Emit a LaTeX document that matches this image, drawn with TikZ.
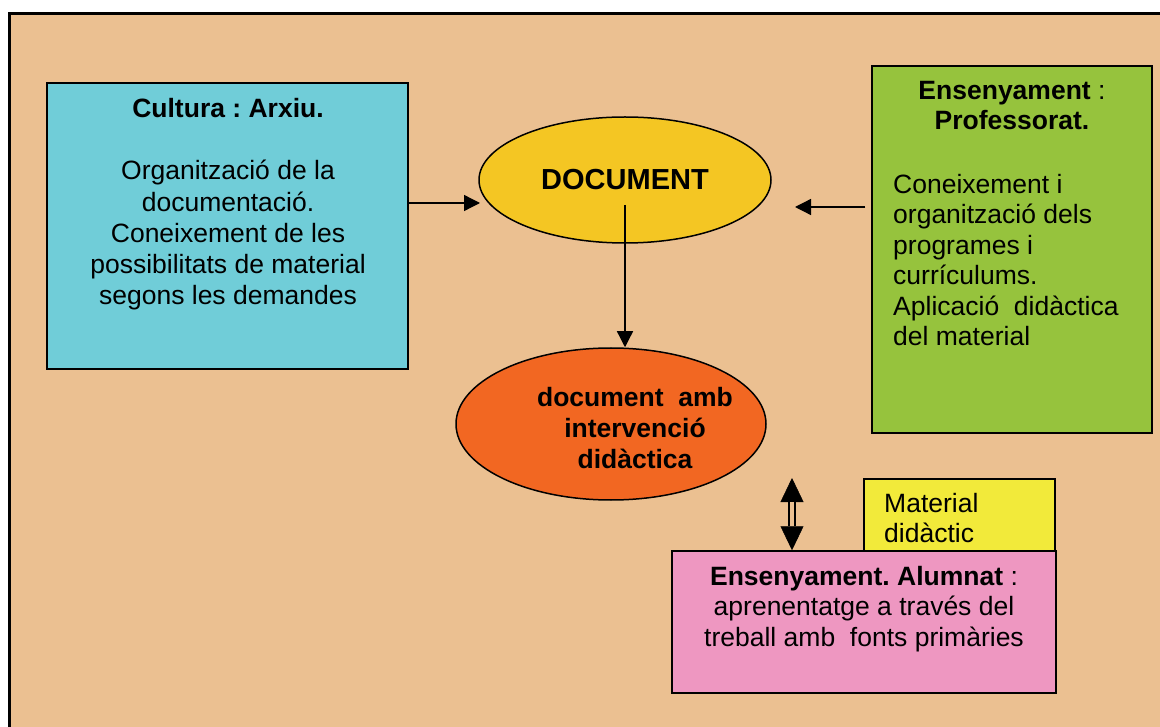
\documentclass[tikz,border=0pt]{standalone}
\usepackage{fontspec}
\setmainfont{Liberation Sans}
\usetikzlibrary{shapes.geometric,arrows.meta}
\frenchspacing

\definecolor{fons}{RGB}{235,192,145}
\definecolor{blau}{RGB}{112,205,216}
\definecolor{groc}{RGB}{244,198,35}
\definecolor{verd}{RGB}{150,195,61}
\definecolor{taronja}{RGB}{242,103,34}
\definecolor{llima}{RGB}{242,234,58}
\definecolor{rosa}{RGB}{238,151,193}

\begin{document}
\begin{tikzpicture}[x=1pt,y=-1pt,
	caixa/.style={rectangle,draw=black,line width=1.5pt,inner sep=0pt},
	elipse/.style={ellipse,draw=black,line width=1.5pt,inner sep=0pt},
	lletra/.style={inner sep=0pt,align=center,font=\fontsize{26.5}{30.5}\selectfont},
	fletxa/.style={-{Triangle[length=16pt,width=16pt]},line width=1.3pt},
	punta/.style={{Triangle[length=24pt,width=23pt]}-{Triangle[length=24pt,width=23pt]},line width=0.5pt}
]

% Fons
\useasboundingbox (0,0) rectangle (1160,727);
\fill[fons] (8,12) rectangle (1160,727);
\draw[line width=3pt] (9.5,727) -- (9.5,13.5) -- (1160,13.5);

% Caixes
\node[caixa,fill=blau,minimum width=361pt,minimum height=286pt] (cultura) at (227.5,226) {};
\node[caixa,fill=verd,minimum width=280pt,minimum height=367pt] (profes) at (1012,249.5) {};
\node[caixa,fill=llima,minimum width=191pt,minimum height=72pt] (material) at (959.5,515) {};
\node[caixa,fill=rosa,minimum width=384pt,minimum height=142pt] (alumnat) at (864,622) {};

\node[elipse,fill=groc,minimum width=292pt,minimum height=126pt] (doc) at (625,180) {};
\node[elipse,fill=taronja,minimum width=310pt,minimum height=152pt] (dida) at (611,424) {};

% Textos
\node[lletra,font=\fontsize{26.5}{31.2}\selectfont,anchor=north] (tcultura) at (228,98) {\textbf{Cultura : Arxiu.}\\ \\
	Organització de la\\ documentació.\\ Coneixement de les\\
	possibilitats de material\\ segons les demandes};
\node[lletra,anchor=north] (tprofes) at (1012,81) {\textbf{Ensenyament} :\\ \textbf{Professorat.}};
\node[lletra,align=left,anchor=north west] (tprofes2) at (893,174) {Coneixement i\\
	organització dels\\ programes i\\ currículums.\\ Aplicació\ \ didàctica\\ del material};
\node[lletra,align=left,anchor=north west] (tmaterial) at (884,493) {Material\\ didàctic};
\node[lletra,anchor=north] (talumnat) at (864,566) {\textbf{Ensenyament. Alumnat} :\\
	aprenentatge a través del\\ treball amb\ \ fonts primàries};
\node[lletra,font=\fontsize{29}{30.5}\selectfont\bfseries] (tdoc) at (625,180) {DOCUMENT};
\node[lletra,font=\fontsize{26.5}{31}\selectfont\bfseries] (tdida) at (635,428) {document\ \ amb\\ intervenció\\ didàctica};

% Fletxes
\coordinate (docW) at (480,203);
\coordinate (docE) at (795,207);
\coordinate (dalt) at (792,478);
\draw[fletxa] (docW -| cultura.east) -- (docW);
\draw[fletxa] ([xshift=-6pt]docE -| profes.west) -- (docE);
\draw[fletxa] ([yshift=-25pt]doc.center) -- (doc.center |- dida.north);
\draw[punta] (dalt) -- (dalt |- alumnat.north);
\draw[line width=2pt,double=fons,double distance=4pt,shorten <=24pt,shorten >=24pt] (dalt) -- (dalt |- alumnat.north);

\end{tikzpicture}
\end{document}
